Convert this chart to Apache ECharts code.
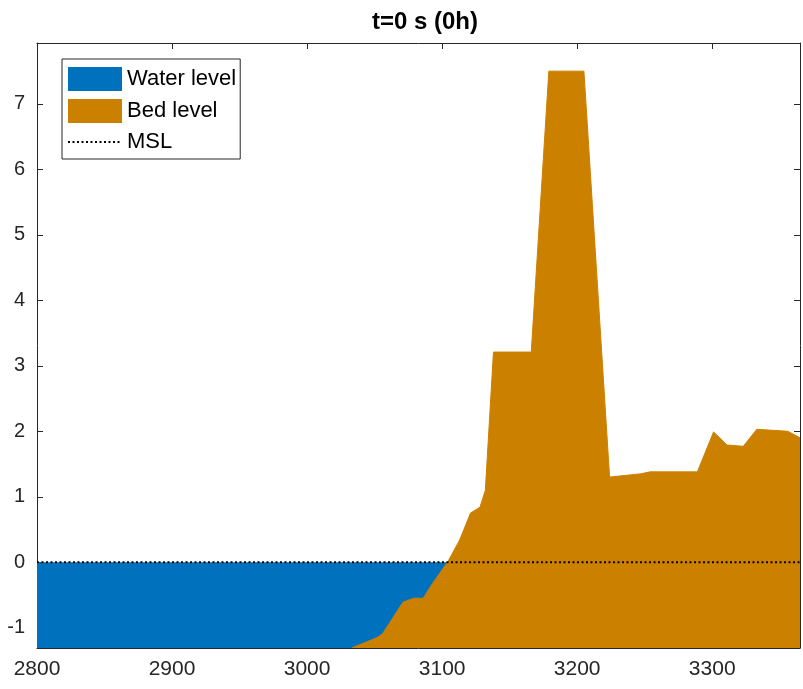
<!DOCTYPE html>
<html>
<head>
<meta charset="utf-8">
<script src="https://cdn.jsdelivr.net/npm/echarts@6/dist/echarts.min.js"></script>
<style>
  html, body { margin: 0; padding: 0; background: #fff; }
  #chart { width: 803px; height: 689px; }
</style>
</head>
<body>
<div id="chart"></div>
<script>
// Cross-shore profile at t = 0: distance (m) vs. level (m)
const xRange = [2800, 3365];
const yRange = [-1.31, 7.93];
const xTicks = [2800, 2900, 3000, 3100, 3200, 3300];
const yTicks = [-1, 0, 1, 2, 3, 4, 5, 6, 7];

const bedX = [3033, 3052, 3056, 3071, 3079, 3086, 3093, 3104, 3113, 3121, 3128, 3132,
              3138, 3166, 3179, 3205, 3224, 3247, 3254, 3289, 3301, 3311, 3323, 3333, 3356, 3365];
const bedZ = [-1.31, -1.15, -1.09, -0.61, -0.55, -0.55, -0.32, 0.0, 0.34, 0.75, 0.84, 1.1,
              3.21, 3.21, 7.5, 7.5, 1.3, 1.35, 1.38, 1.38, 1.99, 1.79, 1.77, 2.03, 2.0, 1.9];

const waterX = [2800, 3104];
const waterZ = [0, 0];

const mslX = [2800, 3365];
const mslZ = [0, 0];

const pairs = (xs, ys) => xs.map((x, i) => [x, ys[i]]);

const axisColor = '#262626';
const fontFamily = '"Liberation Sans", Arial, Helvetica, sans-serif';

const chart = echarts.init(document.getElementById('chart'), null, { renderer: 'canvas' });

const baseX = {
  type: 'value', min: xRange[0], max: xRange[1], interval: 100,
  axisLine: { show: true, onZero: false, lineStyle: { color: axisColor, width: 1 } },
  axisTick: { show: true, inside: true, length: 6, lineStyle: { color: axisColor } },
  splitLine: { show: false }
};
const baseY = {
  type: 'value', min: yRange[0], max: yRange[1], splitNumber: 9,
  axisLine: { show: true, onZero: false, lineStyle: { color: axisColor, width: 1 } },
  axisTick: { show: true, inside: true, length: 6, lineStyle: { color: axisColor } },
  splitLine: { show: false }
};

chart.setOption({
  animation: false,
  backgroundColor: '#fff',
  title: {
    text: 't=0 s (0h)',
    left: 420, top: 5, textAlign: 'center',
    textStyle: { fontFamily, fontSize: 24, fontWeight: 'bold', color: '#000' }
  },
  grid: { left: 37, right: 1, top: 43, bottom: 41, containLabel: false },
  legend: {
    orient: 'vertical', left: 62, top: 59,
    itemWidth: 54, itemHeight: 24, itemGap: 8,
    padding: [8, 4, 6, 5],
    borderColor: axisColor, borderWidth: 1, backgroundColor: '#fff',
    textStyle: { fontFamily, fontSize: 22, color: '#000' },
    data: [
      { name: 'Water level', icon: 'rect' },
      { name: 'Bed level', icon: 'rect' },
      { name: 'MSL', itemStyle: { color: 'rgba(0,0,0,0)', borderWidth: 0, borderColor: 'rgba(0,0,0,0)' } }
    ]
  },
  xAxis: [
    Object.assign({}, baseX, {
      position: 'bottom',
      axisLabel: {
        show: true, margin: 11, color: axisColor, fontFamily, fontSize: 21,
        formatter: v => (xTicks.includes(v) ? String(v) : '')
      }
    }),
    Object.assign({}, baseX, { position: 'top', axisLabel: { show: false } })
  ],
  yAxis: [
    Object.assign({}, baseY, {
      position: 'left',
      axisLabel: {
        show: true, margin: 12, color: axisColor, fontFamily, fontSize: 20,
        formatter: v => (yTicks.includes(Math.round(v * 1000) / 1000) ? String(Math.round(v)) : '')
      }
    }),
    Object.assign({}, baseY, { position: 'right', axisLabel: { show: false } })
  ],
  series: [
    {
      name: 'Water level', type: 'line', xAxisIndex: 0, yAxisIndex: 0,
      data: pairs(waterX, waterZ), symbol: 'none', silent: true,
      itemStyle: { color: '#0072BD' },
      lineStyle: { width: 0, color: '#0072BD' },
      areaStyle: { color: '#0072BD', opacity: 1, origin: 'start' }
    },
    {
      name: 'Bed level', type: 'line', xAxisIndex: 0, yAxisIndex: 0,
      data: pairs(bedX, bedZ), symbol: 'none', silent: true,
      itemStyle: { color: '#CC8000' },
      lineStyle: { width: 1, color: '#CC8000' },
      areaStyle: { color: '#CC8000', opacity: 1, origin: 'start' }
    },
    {
      name: 'MSL', type: 'line', xAxisIndex: 0, yAxisIndex: 0,
      data: pairs(mslX, mslZ), symbol: 'none', silent: true,
      itemStyle: { color: '#000' },
      lineStyle: { width: 2, color: '#000', type: [2, 2.5] }
    }
  ]
});
</script>
</body>
</html>
